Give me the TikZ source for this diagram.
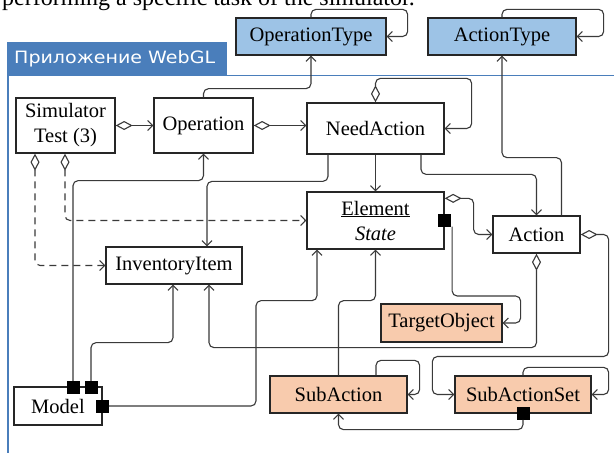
\documentclass[tikz,border=0pt]{standalone}
\usepackage{fontspec}
\usepackage{graphicx}
\setmainfont{Liberation Serif}
\newfontfamily\tabfont{DejaVu Sans}
\usetikzlibrary{arrows.meta,calc}
\definecolor{typeblue}{HTML}{9DC3E6}
\definecolor{peach}{HTML}{F8CBAD}
\definecolor{tabblue}{HTML}{4A7EBB}
\definecolor{lnc}{HTML}{3A3A3A}
\begin{document}
\begin{tikzpicture}[x=1pt,y=-1pt,
  box/.style={draw=black!85,line width=1.3pt,inner sep=0pt,font=\fontsize{20.5}{25}\selectfont,align=center},
  conn/.style={draw=lnc,line width=1.1pt,rounded corners=5pt},
  arr/.style={-{Straight Barb[length=5pt,width=10pt]}},
  agg/.style={{Diamond[fill=white,length=17pt,width=9pt]}-{Straight Barb[length=5pt,width=10pt]}},
  sqbox/.style={fill=black,draw=black,minimum size=12pt,inner sep=0pt},
  dsh/.style={dash pattern=on 7pt off 5pt}]
\useasboundingbox (0,0) rectangle (614,453);
\clip (0,0) rectangle (614,453);
\fill[white] (0,0) rectangle (614,453);
% caption fragment
\node[anchor=base west,font=\fontsize{24}{28}\selectfont,inner sep=0pt] (cap) at (2,5) {performing a specific task of the simulator.};
% frame
\fill[tabblue] (7,42) rectangle (227,75);
\node[anchor=west,text=white,font=\tabfont\fontsize{17}{20}\selectfont,inner sep=0pt] (tab) at (14,59) {\scalebox{1.12}[1]{Приложение WebGL}};
\draw[tabblue,line width=2pt] (8,42) -- (8,453);
\draw[tabblue,line width=1.8pt] (7,75.5) -- (614,75.5);
% nodes
\node[box,minimum width=99pt,minimum height=55pt] (sim) at (65.5,125.5) {Simulator\\Test (3)};
\node[box,minimum width=99pt,minimum height=55pt] (op) at (203.5,125.5) {Operation};
\node[box,minimum width=137pt,minimum height=51pt] (need) at (375.5,128.5) {NeedAction};
\node[box,fill=typeblue,minimum width=150pt,minimum height=37pt] (opt) at (311,36.5) {OperationType};
\node[box,fill=typeblue,minimum width=148pt,minimum height=37pt] (at) at (502,36.5) {ActionType};
\node[box,minimum width=137pt,minimum height=57pt] (elem) at (375.5,220.5) {\underline{Element}\\\textit{State}};
\node[box,minimum width=87pt,minimum height=37pt] (action) at (536.5,234.5) {Action};
\node[box,minimum width=136pt,minimum height=37pt] (inv) at (174,265.5) {InventoryItem};
\node[box,fill=peach,minimum width=121pt,minimum height=38pt] (target) at (441.5,323) {TargetObject};
\node[box,fill=peach,minimum width=137pt,minimum height=37pt] (subact) at (338.5,394.5) {SubAction};
\node[box,fill=peach,minimum width=136pt,minimum height=37pt] (subset) at (523,394.5) {SubActionSet};
\node[box,minimum width=88pt,minimum height=38pt] (model) at (58,406) {Model};
% composition squares
\node[sqbox] (sqE) at ($(elem.east)+(-0.5,0)$) {};
\node[sqbox] (sqS) at (subset.south) {};
\node[sqbox] (sqM1) at (73,387) {};
\node[sqbox] (sqM2) at (91,387) {};
\node[sqbox] (sqM3) at (model.east) {};
% connectors
\draw[conn,agg] (sim.east) -- (op.west);
\draw[conn,agg] (op.east) -- (op.east -| need.west);
\draw[conn,arr] (op.north) |- ($(opt.south)+(0,33)$) -- (opt.south);
\draw[conn,arr] (opt.north) -- ++(0,-8) -| ($(opt.east)+(21,0)$) -- (opt.east);
\draw[conn,arr] (at.north) -- ++(0,-8) -| ($(at.east)+(27,0)$) -- (at.east);
\draw[conn,agg] (need.north) -- ++(0,-24) -| ($(need.east)+(27,0)$) -- (need.east);
\draw[conn,arr] (need.south) -- (elem.north);
\draw[conn,arr] ($(need.south)+(-47.5,0)$) |- ($(inv.north)+(33,-65)$) -- ($(inv.north)+(33,0)$);
\draw[conn,arr] ($(need.south)+(45.5,0)$) |- ($(action.north)+(0,-41)$) -- (action.north);
\draw[conn,arr] ($(action.north)+(25,0)$) |- ($(at.south)+(0,102)$) -- (at.south);
\draw[conn,agg] ($(elem.north east)+(0,7)$) -- ++(29,0) |- (action.west);
\draw[conn,arr] ($(sqE.south)+(8,0)$) |- ($(target.east)+(18,-27)$) |- (target.east);
\draw[conn,agg] (action.south) |- ($(inv.south)+(35,63)$) -- ($(inv.south)+(35,0)$);
\draw[conn,agg] (action.east) -- ++(28,0) |- ($(subset.west)+(-22,-38)$) |- (subset.west);
\draw[conn,arr] (subset.north) -- ++(0,-8) -| ($(subset.east)+(17,0)$) -- (subset.east);
\draw[conn,arr] ($(subact.north)+(37.5,0)$) -- ++(0,-15) -| ($(subact.east)+(12,0)$) -- (subact.east);
\draw[conn,arr] (sqS.south) |- ($(subact.south)+(0,16)$) -- (subact.south);
\draw[conn,arr] (subact.north) |- ($(elem.south)+(0,51)$) -- (elem.south);
\draw[conn,arr] (sqM3.east) -| ($(elem.south)+(-119.5,51)$) -| ($(elem.south)+(-58.5,0)$);
\draw[conn,arr] (sqM1.north) |- ($(op.south)+(0,27)$) -- (op.south);
\draw[conn,arr] (sqM2.north) |- ($(inv.south)+(-1,58)$) -- ($(inv.south)+(-1,0)$);
\draw[conn,agg,dsh] ($(sim.south)+(-30.5,0)$) |- (inv.west);
\draw[conn,agg,dsh] ($(sim.south)+(-0.5,0)$) |- (elem.west);
\end{tikzpicture}
\end{document}
